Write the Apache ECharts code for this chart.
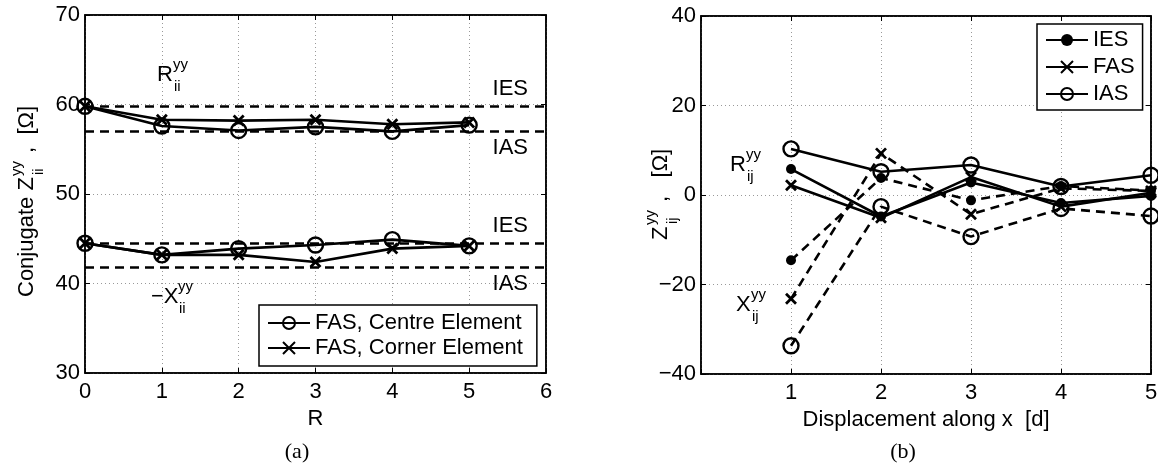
<!DOCTYPE html>
<html>
<head>
<meta charset="utf-8">
<script src="https://cdn.jsdelivr.net/npm/echarts@6/dist/echarts.min.js"></script>
<style>
  html, body { margin: 0; background: #fff; }
  #chart { width: 1158px; height: 466px; }
</style>
</head>
<body>
<div id="chart"></div>
<script>
// (a) self impedance vs R
const rValues = [0, 1, 2, 3, 4, 5];
const centreUpper = [59.8, 57.6, 57.1, 57.5, 57.0, 57.7];
const cornerUpper = [59.8, 58.3, 58.2, 58.3, 57.8, 58.0];
const centreLower = [44.5, 43.2, 43.9, 44.3, 44.9, 44.2];
const cornerLower = [44.5, 43.2, 43.2, 42.4, 43.9, 44.2];
const refNames = ['IES', 'IAS', 'IES', 'IAS'];
const refValues = [59.8, 57.0, 44.5, 41.8];

// (b) mutual impedance vs displacement
const disp = [1, 2, 3, 4, 5];
const iesR = [5.8, -4.8, 2.8, -1.8, -0.2];
const fasR = [2.2, -5.1, 4.0, -2.6, 0.5];
const iasR = [10.3, 5.2, 6.7, 1.9, 4.4];
const iesX = [-14.6, 3.8, -1.2, 2.0, 1.0];
const fasX = [-23.2, 9.3, -4.3, 1.5, 0.9];
const iasX = [-33.7, -2.6, -9.3, -3.0, -4.7];

const FONT = 'Liberation Sans, Arial, Helvetica, sans-serif';
const SERIF = 'Liberation Serif, Times New Roman, serif';
const DASH = [9, 6];
const LW = 2.6;

const markers = {
  circle: { symbol: 'circle', size: 15, style: { color: 'none', borderColor: '#000', borderWidth: 2.4 } },
  cross: { symbol: 'path://M0,0L10,10M10,0L0,10', size: 10, style: { color: 'none', borderColor: '#000', borderWidth: 2.8 } },
  dot: { symbol: 'circle', size: 10, style: { color: '#000', borderWidth: 0 } }
};

function pairs(xs, ys) {
  return xs.map((x, i) => [x, ys[i]]);
}

function lineSeries(name, xs, ys, marker, dashed, axis) {
  const m = markers[marker];
  return {
    name: name,
    type: 'line',
    xAxisIndex: axis,
    yAxisIndex: axis,
    data: pairs(xs, ys),
    symbol: m.symbol,
    symbolSize: m.size,
    itemStyle: m.style,
    lineStyle: { color: '#000', width: LW, type: dashed ? DASH : 'solid' },
    emphasis: { disabled: true },
    z: 3
  };
}

function valueAxis(grid, pos, min, max, interval, main) {
  return {
    type: 'value',
    gridIndex: grid,
    position: pos,
    min: min,
    max: max,
    interval: interval,
    axisLine: { show: true, onZero: false, lineStyle: { color: '#000', width: 1.5 } },
    axisTick: { show: true, inside: true, length: 5, lineStyle: { color: '#000', width: 1 } },
    axisLabel: { show: main, color: '#000', fontSize: 22, fontFamily: FONT, margin: pos === 'bottom' ? 8 : 5 },
    splitLine: { show: main, lineStyle: { color: '#999', type: [1, 3], width: 1 } }
  };
}

const xA = valueAxis(0, 'bottom', 0, 6, 1, true);
xA.name = 'R';
xA.nameLocation = 'middle';
xA.nameGap = 24;
xA.nameTextStyle = { color: '#000', fontSize: 22, fontFamily: FONT };

const xB = valueAxis(1, 'bottom', 0, 5, 1, true);
xB.axisLabel.formatter = v => (v === 0 ? '' : String(v));
xB.name = 'Displacement along x  [d]';
xB.nameLocation = 'middle';
xB.nameGap = 28;
xB.nameTextStyle = { color: '#000', fontSize: 22, fontFamily: FONT };

const yA = valueAxis(0, 'left', 30, 70, 10, true);
const yB = valueAxis(1, 'left', -40, 40, 20, true);
yB.axisLabel.formatter = v => String(v).replace('-', '\u2212');

// text with stacked super/subscript
function scripted(x, y, base, sup, sub, dx, rot, tail, tailDx) {
  const kids = [
    { type: 'text', style: { text: base, x: 0, y: 0, font: '22px ' + FONT, fill: '#000', verticalAlign: 'middle' } },
    { type: 'text', style: { text: sup, x: dx, y: -10, font: '15px ' + FONT, fill: '#000', verticalAlign: 'middle' } },
    { type: 'text', style: { text: sub, x: dx + 1, y: 12, font: '15px ' + FONT, fill: '#000', verticalAlign: 'middle' } }
  ];
  if (tail) {
    kids.push({ type: 'text', style: { text: tail, x: tailDx, y: 0, font: '22px ' + FONT, fill: '#000', verticalAlign: 'middle' } });
  }
  return { type: 'group', x: x, y: y, rotation: rot || 0, children: kids };
}

const leftSeries = [
  lineSeries('FAS, Centre Element', rValues, centreUpper, 'circle', false, 0),
  lineSeries('FAS, Corner Element', rValues, cornerUpper, 'cross', false, 0),
  lineSeries('FAS, Centre Element', rValues, centreLower, 'circle', false, 0),
  lineSeries('FAS, Corner Element', rValues, cornerLower, 'cross', false, 0)
];
leftSeries[0].markLine = {
  silent: true,
  symbol: 'none',
  animation: false,
  lineStyle: { color: '#000', width: LW, type: DASH },
  label: { show: true, formatter: '{b}', color: '#000', fontSize: 22, fontFamily: FONT, distance: [18, 6] },
  data: refNames.map((n, i) => ({
    name: n,
    yAxis: refValues[i],
    label: { position: n === 'IES' ? 'insideEndTop' : 'insideEndBottom' }
  }))
};

const rightSeries = [
  lineSeries('IES', disp, iesR, 'dot', false, 1),
  lineSeries('FAS', disp, fasR, 'cross', false, 1),
  lineSeries('IAS', disp, iasR, 'circle', false, 1),
  lineSeries('IES', disp, iesX, 'dot', true, 1),
  lineSeries('FAS', disp, fasX, 'cross', true, 1),
  lineSeries('IAS', disp, iasX, 'circle', true, 1)
];

const legendBase = {
  orient: 'vertical',
  backgroundColor: '#fff',
  borderColor: '#000',
  borderWidth: 1.5,
  borderRadius: 0,
  itemWidth: 42,
  itemHeight: 15,
  textStyle: { color: '#000', fontSize: 22, fontFamily: FONT, lineHeight: 22 }
};

const chart = echarts.init(document.getElementById('chart'), null, { renderer: 'canvas' });
chart.setOption({
  animation: false,
  backgroundColor: '#fff',
  grid: [
    { left: 85, top: 15, width: 461, height: 358, show: true, borderColor: '#000', borderWidth: 1.5, backgroundColor: 'transparent', outerBoundsMode: 'none' },
    { left: 701, top: 16, width: 450, height: 358, show: true, borderColor: '#000', borderWidth: 1.5, backgroundColor: 'transparent', outerBoundsMode: 'none' }
  ],
  xAxis: [xA, xB, valueAxis(0, 'top', 0, 6, 1, false), valueAxis(1, 'top', 0, 5, 1, false)],
  yAxis: [yA, yB, valueAxis(0, 'right', 30, 70, 10, false), valueAxis(1, 'right', -40, 40, 20, false)],
  legend: [
    Object.assign({}, legendBase, {
      left: 259, top: 305, padding: [7, 14, 7, 8], itemGap: 3,
      data: ['FAS, Centre Element', 'FAS, Corner Element']
    }),
    Object.assign({}, legendBase, {
      left: 1037, top: 24, padding: [5, 8, 5, 8], itemGap: 5,
      data: ['IES', 'FAS', 'IAS']
    })
  ],
  graphic: [
    scripted(157, 75, 'R', 'yy', 'ii', 16),
    scripted(151, 297, '\u2212X', 'yy', 'ii', 27),
    scripted(730, 165, 'R', 'yy', 'ij', 16),
    scripted(736, 305, 'X', 'yy', 'ij', 15),
    scripted(27, 297, 'Conjugate Z', 'yy', 'ii', 121, Math.PI / 2, ' ,  [\u03a9]', 138),
    scripted(661, 240, 'Z', 'yy', 'ij', 15, Math.PI / 2, ' ,   [\u03a9]', 32),
    { type: 'text', style: { text: '(a)', x: 297, y: 452, font: '22px ' + SERIF, fill: '#000', align: 'center', verticalAlign: 'middle' } },
    { type: 'text', style: { text: '(b)', x: 903, y: 452, font: '22px ' + SERIF, fill: '#000', align: 'center', verticalAlign: 'middle' } }
  ],
  series: leftSeries.concat(rightSeries)
});
</script>
</body>
</html>
